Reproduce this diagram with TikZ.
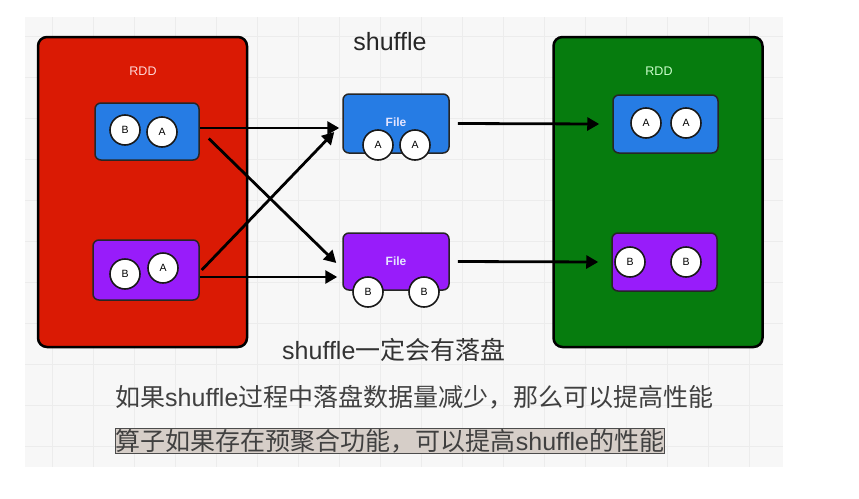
\documentclass[tikz,border=0pt]{standalone}
\usepackage{fontspec}
\setmainfont{Liberation Sans}
\newfontfamily\cjk{Noto Sans CJK SC}
\usetikzlibrary{arrows.meta}
\definecolor{rddred}{RGB}{218,26,4}
\definecolor{rddgreen}{RGB}{6,124,14}
\definecolor{partblue}{RGB}{38,124,228}
\definecolor{partpurple}{RGB}{152,28,250}
\definecolor{panelgray}{RGB}{247,247,247}
\definecolor{gridgray}{RGB}{236,236,236}
\definecolor{marktan}{RGB}{214,206,200}
\newcommand\zh[1]{{\cjk #1}}

\begin{document}
\begin{tikzpicture}[x=1pt,y=-1pt,
	rdd/.style={draw=black, line width=2.5pt, rounded corners=9pt, minimum width=209pt, minimum height=310pt},
	part/.style={draw=black!85, line width=1.5pt, rounded corners=6pt, minimum width=105pt, minimum height=58pt},
	rec/.style={circle, draw=black!90, fill=white, line width=1.6pt, minimum size=30pt, inner sep=0pt, font=\fontsize{10.5}{12}\selectfont},
	flow/.style={-{Triangle[length=12pt,width=13pt]}, line width=2.8pt},
	caption/.style={inner sep=0pt, anchor=west, text=black!75, font=\fontsize{25}{28}\selectfont}]
	\useasboundingbox (0,0) rectangle (859,498);
	% background panel
	\fill[panelgray] (25,17) rectangle (783,467);
	\foreach \gx in {52,93,...,780} \draw[gridgray, line width=0.6pt] (\gx,17) -- (\gx,467);
	\foreach \gy in {36,77,...,466} \draw[gridgray, line width=0.6pt] (25,\gy) -- (783,\gy);
	% the two RDDs
	\node[rdd, fill=rddred] (rddL) at (142.5,192) {};
	\node[rdd, fill=rddgreen] (rddR) at (658,192) {};
	\node[text=red!15, font=\fontsize{12.5}{14}\selectfont] (rddLlbl) at (143,71) {RDD};
	\node[text=green!20, font=\fontsize{12.5}{14}\selectfont] (rddRlbl) at (659,71) {RDD};
	\node[font=\fontsize{25}{28}\selectfont, text=black!85] (title) at (390,42) {shuffle};
	% partitions
	\node[part, fill=partblue, minimum width=104pt, minimum height=57pt] (bluL) at (147,131.5) {};
	\node[part, fill=partpurple, minimum width=106pt, minimum height=60pt] (purL) at (146,270) {};
	\node[part, fill=partblue, minimum width=106pt, minimum height=59pt] (fileA) at (396,123.5) {};
	\node[part, fill=partpurple, minimum width=106pt, minimum height=57pt] (fileB) at (396,261.5) {};
	\node[part, fill=partblue] (bluR) at (665.5,124) {};
	\node[part, fill=partpurple] (purR) at (664.5,262) {};
	\node[text=white!90!blue, font=\bfseries\fontsize{12}{14}\selectfont] (fileAlbl) at (396,122) {File};
	\node[text=white!90!blue, font=\bfseries\fontsize{12}{14}\selectfont] (fileBlbl) at (396,261) {File};
	% records
	\node[rec] (l1b) at (125,130) {B};
	\node[rec] (l1a) at (162,132) {A};
	\node[rec] (l2b) at (125,274) {B};
	\node[rec] (l2a) at (163,268) {A};
	\node[rec] (f1a) at (378,145) {A};
	\node[rec] (f1a2) at (415,145) {A};
	\node[rec] (f2b) at (368,292) {B};
	\node[rec] (f2b2) at (424,292) {B};
	\node[rec] (r1a) at (646,123) {A};
	\node[rec] (r1a2) at (686,123) {A};
	\node[rec] (r2b) at (630,262) {B};
	\node[rec] (r2b2) at (686,262) {B};
	% shuffle write and read
	\draw[flow] ([shift={(0,-3.5)}]bluL.east) -- ([shift={(-3,4.5)}]fileA.west);
	\draw[flow] ([shift={(9,7)}]bluL.east) -- ([shift={(-6,1.5)}]fileB.west);
	\draw[flow] ([shift={(2,0)}]purL.east) -- ([shift={(-8,8.5)}]fileA.west);
	\draw[flow] ([shift={(0,7)}]purL.east) -- ([shift={(-5,15.5)}]fileB.west);
	\draw[flow] ([xshift=8pt]fileA.east) -- ([xshift=-13pt]bluR.west);
	\draw[flow] ([xshift=8pt]fileB.east) -- ([xshift=-13pt]purR.west);
	% notes
	\node[caption, text=black!80] (note1) at (282,350) {shuffle\zh{一定会有落盘}};
	\node[caption] (note2) at (115,397) {\zh{如果}shuffle\zh{过程中落盘数据量减少，那么可以提高性能}};
	\node[caption, fill=marktan, draw=black!70, line width=0.8pt, inner xsep=0.5pt, inner ysep=0.5pt] (note3) at (115,441) {\zh{算子如果存在预聚合功能，可以提高}shuffle\zh{的性能}};
\end{tikzpicture}
\end{document}
